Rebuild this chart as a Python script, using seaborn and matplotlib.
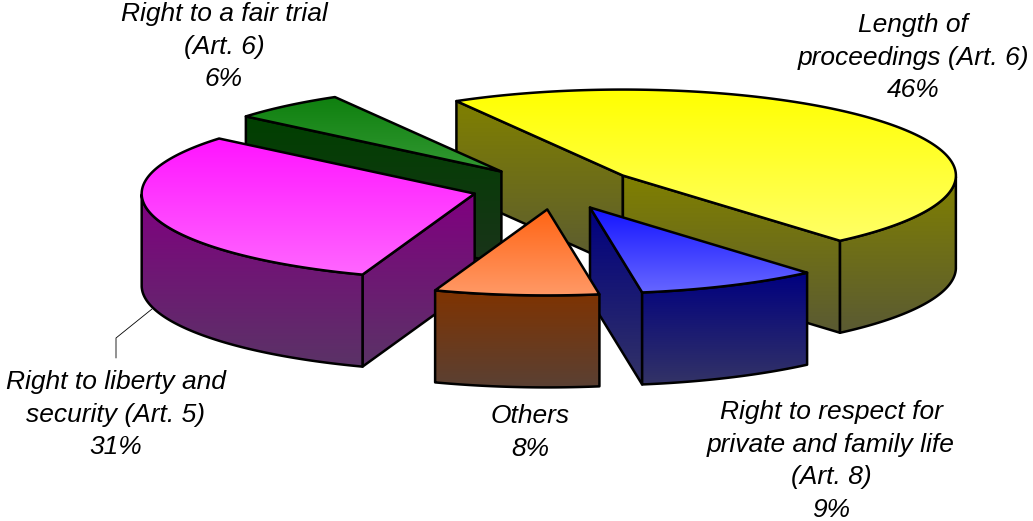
import numpy as np
import matplotlib
matplotlib.use("Agg")
import matplotlib.pyplot as plt
from matplotlib.patches import Polygon
import seaborn as sns

# data
categories = ["Length of\nproceedings (Art. 6)",
              "Right to respect for\nprivate and family life\n(Art. 8)",
              "Others",
              "Right to liberty and\nsecurity (Art. 5)",
              "Right to a fair trial\n(Art. 6)"]
shares = [47.03, 8.80, 7.97, 30.61, 5.59]
percent_labels = ["46%", "9%", "8%", "31%", "6%"]

# styles
top_start = ["#FFFF00", "#1414FF", "#FF6414", "#FF14FF", "#0F800F"]
top_end = ["#FFFF66", "#6666FF", "#FF9966", "#FF66FF", "#339933"]
side_start = ["#808000", "#000080", "#803300", "#800080", "#004000"]
side_end = ["#5A5A33", "#333366", "#5A4033", "#5A3366", "#1A331A"]
label_xy = [(913, 13), (831, 400), (530, 404), (116, 370), (224, 2)]
draw_order = [0, 4, 3, 1, 2]

START_ANGLE = 120.0
CX, CY = 555.0, 188.0
RX, RY = 333.0, 86.0
DEPTH = 92.0
EXPLODE = 0.25
EDGE_LW = 1.8

sns.set_theme(style="white")
plt.rcParams["font.family"] = ["Liberation Sans", "DejaVu Sans"]

fig = plt.figure(figsize=(10.33, 5.21), dpi=100, facecolor="white")
ax = fig.add_axes([0, 0, 1, 1])


def gradient_face(points, start, end, z):
    pts = np.asarray(points)
    cmap = sns.blend_palette([start, end], n_colors=256, as_cmap=True)
    grad = np.linspace(0, 1, 256).reshape(-1, 1)
    y0, y1 = pts[:, 1].min(), pts[:, 1].max()
    x0, x1 = pts[:, 0].min(), pts[:, 0].max()
    im = ax.imshow(grad, cmap=cmap, vmin=0, vmax=1, aspect="auto", origin="upper",
                   extent=(x0, x1, y1, y0), zorder=z, interpolation="bilinear")
    fill = Polygon(pts, closed=True, facecolor="none", edgecolor="black",
                   linewidth=EDGE_LW, joinstyle="round", zorder=z + 0.5)
    ax.add_patch(fill)
    im.set_clip_path(fill)


fractions = np.array(shares) / np.sum(shares)
sweeps = fractions * 360.0
ends = START_ANGLE - np.cumsum(sweeps)
starts = ends + sweeps

z = 1
for i in draw_order:
    a1, a2 = starts[i], ends[i]
    mid = np.radians((a1 + a2) / 2)
    ax_x = CX + EXPLODE * RX * np.cos(mid)
    ax_y = CY - EXPLODE * RY * np.sin(mid)

    def rim(angle_deg):
        t = np.radians(angle_deg)
        return np.column_stack([ax_x + RX * np.cos(t), ax_y - RY * np.sin(t)])

    apex = np.array([ax_x, ax_y])
    down = np.array([0, DEPTH])

    # radial cut faces that look towards the viewer
    if np.cos(np.radians(a1)) < 0:
        p = rim(np.array([a1]))[0]
        gradient_face([apex, p, p + down, apex + down], side_start[i], side_end[i], z)
        z += 1
    if np.cos(np.radians(a2)) > 0:
        p = rim(np.array([a2]))[0]
        gradient_face([apex, p, p + down, apex + down], side_start[i], side_end[i], z)
        z += 1

    # outer wall: the part of the arc on the front half
    arc = np.linspace(a1, a2, 200)
    front = arc[np.sin(np.radians(arc)) <= 0]
    if front.size > 1:
        edge = rim(front)
        gradient_face(np.vstack([edge, edge[::-1] + down]), side_start[i], side_end[i], z)
        z += 1

    # top face
    gradient_face(np.vstack([apex, rim(arc)]), top_start[i], top_end[i], z)
    z += 1

# leader line for the liberty label
ax.plot([152, 116, 116], [309, 338, 358], color="black", lw=0.6, zorder=0.5)

for name, pct, (x, y) in zip(categories, percent_labels, label_xy):
    ax.text(x, y, f"{name}\n{pct}", ha="center", va="top", style="italic",
            fontsize=19, color="black", linespacing=1.45, zorder=100)

ax.set_xlim(0, 1033)
ax.set_ylim(521, 0)
ax.axis("off")
fig.savefig("out.png", dpi=100, facecolor="white")
